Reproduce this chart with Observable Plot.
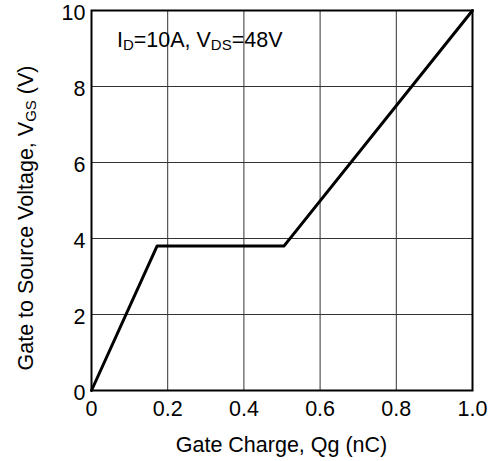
<!DOCTYPE html>
<html>
<head>
<meta charset="utf-8">
<script src="https://cdn.jsdelivr.net/npm/d3@7"></script>
<script src="https://cdn.jsdelivr.net/npm/@observablehq/plot@0.6"></script>
<style>
  html, body { margin: 0; padding: 0; background: #fff; }
  svg { font-family: "Liberation Sans", Arial, sans-serif; }
</style>
</head>
<body>
<div id="chart"></div>
<script>
const charge = [0, 0.172, 0.505, 1.0];
const vgs = [0, 3.8, 3.8, 10];
const xTicks = [0, 0.2, 0.4, 0.6, 0.8, 1.0];
const yTicks = [0, 2, 4, 6, 8, 10];

const data = charge.map((q, i) => ({q, v: vgs[i]}));
const FS = 21.5;

const plot = Plot.plot({
  width: 493,
  height: 461,
  marginLeft: 91,
  marginRight: 21,
  marginTop: 10,
  marginBottom: 71,
  style: {fontFamily: '"Liberation Sans", Arial, sans-serif', fontSize: FS + "px", color: "#000", background: "#fff"},
  x: {domain: [0, 1], label: null},
  y: {domain: [0, 10], label: null},
  marks: [
    Plot.gridX(xTicks.slice(1, -1), {stroke: "#333", strokeOpacity: 1, strokeWidth: 1}),
    Plot.gridY(yTicks.slice(1, -1), {stroke: "#333", strokeOpacity: 1, strokeWidth: 1}),
    Plot.axisX({ticks: xTicks, tickFormat: d => d === 0 ? "0" : d.toFixed(1), tickSize: 0, tickPadding: 10, fontSize: FS, label: null}),
    Plot.axisY({ticks: yTicks, tickFormat: d => String(d), tickSize: 0, tickPadding: 6, dy: 3, fontSize: FS, label: null}),
    Plot.line(data, {x: "q", y: "v", stroke: "#000", strokeWidth: 3}),
    Plot.frame({stroke: "#000", strokeWidth: 2})
  ]
});
document.getElementById("chart").appendChild(plot);

const svg = d3.select(plot);
const xs = plot.scale("x"), ys = plot.scale("y");
const font = '"Liberation Sans", Arial, sans-serif';
const SUB = 15;

// x-axis label
svg.append("text")
  .attr("x", (xs.range[0] + xs.range[1]) / 2)
  .attr("y", 452)
  .attr("text-anchor", "middle")
  .attr("font-family", font).attr("font-size", FS).attr("fill", "#000")
  .text("Gate Charge, Qg (nC)");

// y-axis label with subscript
const yl = svg.append("text")
  .attr("transform", `translate(33,${(ys.range[0] + ys.range[1]) / 2 + 18}) rotate(-90)`)
  .attr("text-anchor", "middle")
  .attr("font-family", font).attr("font-size", FS).attr("fill", "#000");
yl.append("tspan").text("Gate to Source Voltage, V");
yl.append("tspan").attr("font-size", SUB).attr("dy", 3).text("GS");
yl.append("tspan").attr("dy", -3).text(" (V)");

// annotation
const ann = svg.append("text")
  .attr("x", xs.apply(0.068))
  .attr("y", ys.apply(9.03))
  .attr("text-anchor", "start")
  .attr("font-family", font).attr("font-size", FS).attr("fill", "#000");
ann.append("tspan").text("I");
ann.append("tspan").attr("font-size", SUB).attr("dy", 3).text("D");
ann.append("tspan").attr("dy", -3).text("=10A, V");
ann.append("tspan").attr("font-size", SUB).attr("dy", 3).text("DS");
ann.append("tspan").attr("dy", -3).text("=48V");
</script>
</body>
</html>
